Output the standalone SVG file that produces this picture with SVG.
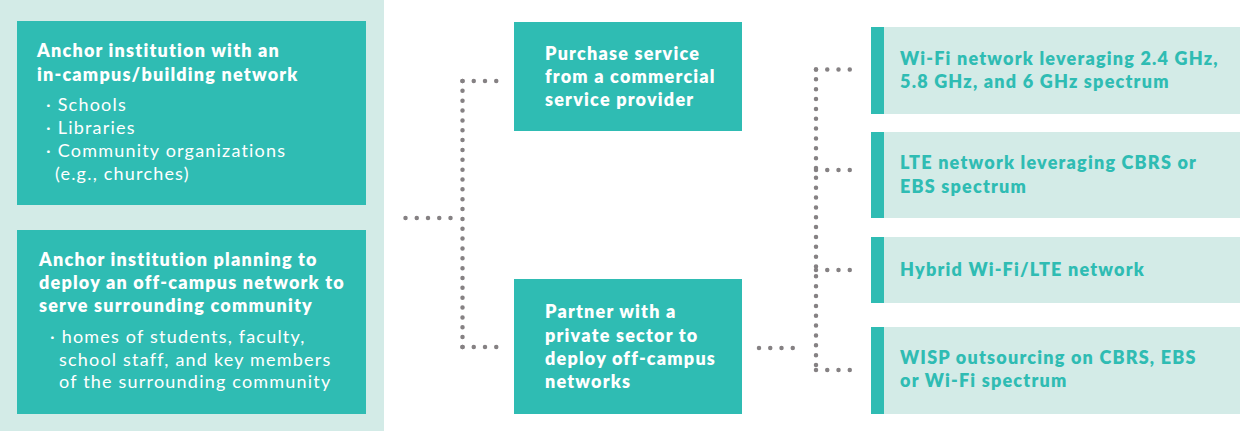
<svg xmlns="http://www.w3.org/2000/svg" width="1240" height="431" viewBox="0 0 1240 431">
<style>
.bg{fill:#d3ebe7}
.dark{fill:#2fbcb3}
.light{fill:#d3ebe7}
.t{font-family:Lato,"Open Sans","Liberation Sans",sans-serif;font-size:18px;letter-spacing:1.2px}
.b{font-weight:800}
.w{fill:#ffffff}
.tc{fill:#2fbcb3}
.dot{fill:none;stroke:#858183;stroke-width:4.5;stroke-linecap:round}
.dh{stroke-dasharray:0 11.25}
.dv{stroke-dasharray:0 9.85}
</style>
<rect x="0" y="0" width="1240" height="431" fill="#ffffff"/>
<rect class="bg" x="0" y="0" width="384" height="431"/>
<g id="connectors">
<path class="dot dh" d="M405.5 218H451"/>
<path class="dot dv" d="M462.5 81V347"/>
<path class="dot dh" d="M462.5 81H507"/>
<path class="dot dh" d="M462.5 347H507"/>
<path class="dot dh" d="M759 348H804"/>
<path class="dot dv" d="M816 69.5V370"/>
<path class="dot dh" d="M816 69.5H860"/>
<path class="dot dh" d="M816 170H860"/>
<path class="dot dh" d="M816 270H860"/>
<path class="dot dh" d="M816 370H860"/>
</g>
<g id="anchor-in-campus">
<rect class="dark" x="17" y="21" width="349" height="184"/>
<text class="t b w" x="37" y="57">Anchor institution with an</text>
<text class="t b w" x="37" y="81">in-campus/building network</text>
<text class="t w"><tspan x="46" y="111">· Schools</tspan><tspan x="46" y="134">· Libraries</tspan><tspan x="46" y="157">· Community organizations</tspan><tspan x="55" y="180">(e.g., churches)</tspan></text>
</g>
<g id="anchor-off-campus">
<rect class="dark" x="17" y="230" width="349" height="184"/>
<text class="t b w"><tspan x="39" y="266">Anchor institution planning to</tspan><tspan x="39" y="289">deploy an off-campus network to</tspan><tspan x="39" y="312">serve surrounding community</tspan></text>
<text class="t w"><tspan x="50" y="343">· homes of students, faculty,</tspan><tspan x="59" y="366">school staff, and key members</tspan><tspan x="59" y="388">of the surrounding community</tspan></text>
</g>
<g id="purchase-service">
<rect class="dark" x="514" y="22" width="228" height="109"/>
<text class="t b w"><tspan x="545" y="60">Purchase service</tspan><tspan x="545" y="83">from a commercial</tspan><tspan x="545" y="106">service provider</tspan></text>
</g>
<g id="partner-private">
<rect class="dark" x="514" y="279" width="228" height="135"/>
<text class="t b w"><tspan x="545" y="318">Partner with a</tspan><tspan x="545" y="342">private sector to</tspan><tspan x="545" y="365">deploy off-campus</tspan><tspan x="545" y="388">networks</tspan></text>
</g>
<g id="wifi-network">
<rect class="light" x="871" y="27" width="369" height="87"/>
<rect class="dark" x="871" y="27" width="13" height="87"/>
<text class="t b tc"><tspan x="900" y="65">Wi-Fi network leveraging 2.4 GHz,</tspan><tspan x="900" y="88">5.8 GHz, and 6 GHz spectrum</tspan></text>
</g>
<g id="lte-network">
<rect class="light" x="871" y="132" width="369" height="86"/>
<rect class="dark" x="871" y="132" width="13" height="86"/>
<text class="t b tc"><tspan x="900" y="169">LTE network leveraging CBRS or</tspan><tspan x="900" y="193">EBS spectrum</tspan></text>
</g>
<g id="hybrid-network">
<rect class="light" x="871" y="237" width="369" height="66"/>
<rect class="dark" x="871" y="237" width="13" height="66"/>
<text class="t b tc" x="900" y="276">Hybrid Wi-Fi/LTE network</text>
</g>
<g id="wisp-outsourcing">
<rect class="light" x="871" y="327" width="369" height="87"/>
<rect class="dark" x="871" y="327" width="13" height="87"/>
<text class="t b tc"><tspan x="900" y="364">WISP outsourcing on CBRS, EBS</tspan><tspan x="900" y="387">or Wi-Fi spectrum</tspan></text>
</g>
</svg>
